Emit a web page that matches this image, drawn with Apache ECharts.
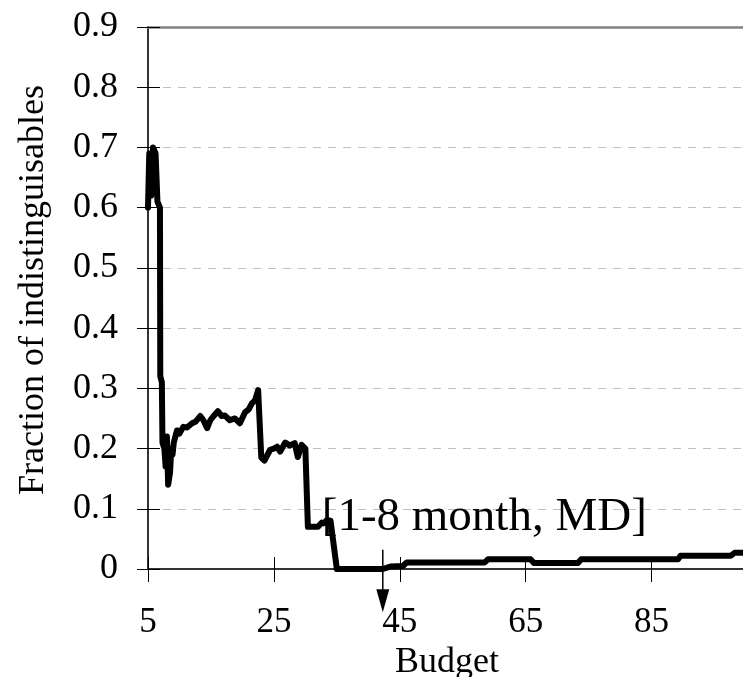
<!DOCTYPE html>
<html>
<head>
<meta charset="utf-8">
<script src="https://cdn.jsdelivr.net/npm/echarts@6/dist/echarts.min.js"></script>
<style>html,body{margin:0;padding:0;background:#fff}#c{width:743px;height:677px}</style>
</head>
<body>
<div id="c"></div>
<script>
const budget = [5.0,5.2,5.5,5.8,6.2,6.5,6.9,6.95,7.2,7.3,7.6,7.8,8.0,8.2,8.5,8.7,8.9,9.1,9.6,10.0,10.6,11.2,12.0,12.6,13.3,13.8,14.4,14.9,15.5,16.1,16.7,17.2,18.0,18.8,19.6,20.4,21.0,21.5,22.0,22.5,23.0,23.5,24.4,25.0,25.5,26.0,26.8,27.5,28.3,28.8,29.4,30.0,30.4,32.0,32.6,33.0,33.4,34.0,35.0,42.3,43.5,45.5,46.1,58.5,59.0,65.8,66.3,73.3,73.8,89.2,89.6,97.6,98.2,100];
const fraction = [0.60,0.69,0.62,0.70,0.69,0.61,0.60,0.32,0.31,0.21,0.20,0.17,0.22,0.14,0.16,0.20,0.19,0.21,0.23,0.225,0.236,0.235,0.242,0.245,0.254,0.247,0.234,0.247,0.255,0.262,0.254,0.255,0.247,0.25,0.242,0.26,0.265,0.275,0.28,0.297,0.185,0.18,0.198,0.2,0.203,0.195,0.21,0.205,0.209,0.186,0.206,0.20,0.07,0.07,0.077,0.076,0.081,0.08,0.0,0.0,0.004,0.005,0.011,0.011,0.016,0.016,0.01,0.01,0.016,0.016,0.022,0.022,0.027,0.027];
const xTicks = [5,25,45,65,85];
const xMin = 5, xMax = 100;
const yMin = 0, yMax = 0.9, yStep = 0.1;
const noteText = '[1-8 month, MD]';
const notePos = [32.6, 0.085];
const arrowX = 42.3, arrowTop = 0.032, arrowBottom = -0.072;

const FONT = "'Liberation Serif','Times New Roman',serif";
const chart = echarts.init(document.getElementById('c'));
const data = budget.map((b,i)=>[b, fraction[i]]);

chart.setOption({
  animation: false,
  backgroundColor: '#fff',
  grid: {left: 148, top: 27, width: 598, bottom: 108, containLabel: false, outerBoundsMode: 'none'},
  xAxis: [
    {type:'value', position:'bottom', min:xMin, max:xMax,
     axisLine:{onZero:false, lineStyle:{color:'#333', width:2}},
     axisTick:{show:true, inside:false, length:13, customValues:xTicks, lineStyle:{color:'#000', width:1}},
     axisLabel:{customValues:xTicks, margin:36, fontFamily:FONT, fontSize:35, color:'#000'},
     splitLine:{show:false},
     name:'Budget', nameLocation:'middle', nameGap:68,
     nameTextStyle:{fontFamily:FONT, fontSize:36, color:'#000'}},
    {type:'value', position:'bottom', min:xMin, max:xMax,
     axisLine:{show:false, onZero:false},
     axisTick:{show:true, inside:true, length:12, customValues:xTicks, lineStyle:{color:'#000', width:1}},
     axisLabel:{show:false}, splitLine:{show:false}},
    {type:'value', position:'top', min:xMin, max:xMax,
     axisLine:{show:true, onZero:false, lineStyle:{color:'#808080', width:2.5}},
     axisTick:{show:false}, axisLabel:{show:false}, splitLine:{show:false}}
  ],
  yAxis: [
    {type:'value', position:'left', min:yMin, max:yMax, interval:yStep,
     axisLine:{show:true, onZero:false, lineStyle:{color:'#333', width:2}},
     axisTick:{show:true, inside:false, length:11, lineStyle:{color:'#000', width:1}},
     axisLabel:{margin:30, fontFamily:FONT, fontSize:36, color:'#000',
       formatter:v=>String(Math.round(v*10)/10)},
     splitLine:{show:true, lineStyle:{color:'#c0c0c0', width:1, type:[8,7]}},
     name:'Fraction of indistinguisables', nameLocation:'middle', nameGap:96,
     nameTextStyle:{fontFamily:FONT, fontSize:36, color:'#000', padding:[0,0,0,16]}},
    {type:'value', position:'left', min:yMin, max:yMax, interval:yStep,
     axisLine:{show:false, onZero:false},
     axisTick:{show:true, inside:true, length:12, lineStyle:{color:'#000', width:1}},
     axisLabel:{show:false}, splitLine:{show:false}}
  ],
  series: [{
    type:'line', xAxisIndex:0, yAxisIndex:0, data:data,
    showSymbol:false, symbol:'none',
    lineStyle:{color:'#000', width:6, join:'round', cap:'round'},
    z:5
  }]
});

function px(p){ return chart.convertToPixel({xAxisIndex:0, yAxisIndex:0}, p); }
const tp = px(notePos);
const a1 = px([arrowX, arrowTop]);
const a2 = px([arrowX, arrowBottom]);
chart.setOption({
  graphic: [
    {type:'text', x:tp[0], y:tp[1], z:10,
     style:{text:noteText, font:"47px "+FONT, fill:'#000', textAlign:'left', textVerticalAlign:'middle'}},
    {type:'line', z:10, shape:{x1:a1[0], y1:a1[1], x2:a2[0], y2:a2[1]-20},
     style:{stroke:'#000', lineWidth:1.5}},
    {type:'polygon', z:10, shape:{points:[[a2[0]-6.5, a2[1]-23],[a2[0]+6.5, a2[1]-23],[a2[0], a2[1]]]},
     style:{fill:'#000'}}
  ]
});
</script>
</body>
</html>
